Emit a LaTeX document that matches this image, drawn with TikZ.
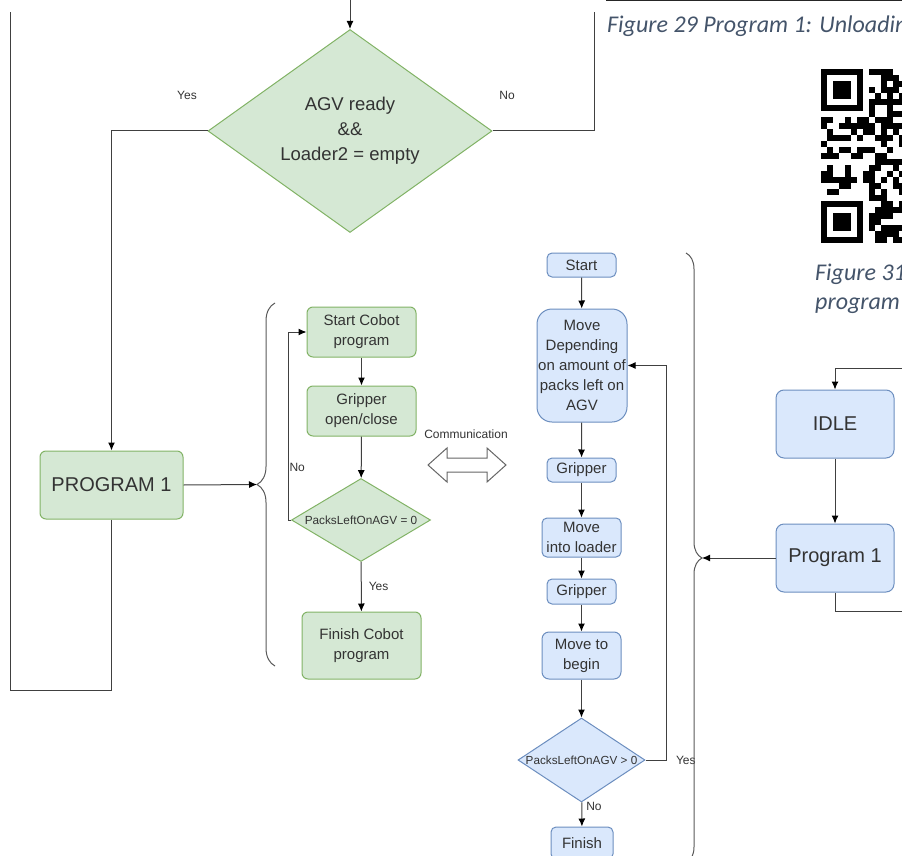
\documentclass[tikz,border=0pt]{standalone}
\usepackage{fontspec}
\setmainfont{Liberation Sans}
\newfontfamily\capfont{Carlito}
\usetikzlibrary{arrows.meta, positioning, shapes.geometric, decorations.pathreplacing}
\definecolor{gfill}{HTML}{D5E8D4}
\definecolor{gline}{HTML}{82B366}
\definecolor{bfill}{HTML}{DAE8FC}
\definecolor{bline}{HTML}{6C8EBF}
\definecolor{txt}{HTML}{333333}
\definecolor{capcol}{HTML}{44546A}
\tikzset{
  gbox/.style={draw=gline, fill=gfill, rounded corners=6pt, line width=1pt, text=txt, align=center, inner sep=0pt},
  bbox/.style={draw=bline, fill=bfill, rounded corners=5pt, line width=1pt, text=txt, align=center, inner sep=0pt},
  gdia/.style={diamond, draw=gline, fill=gfill, line width=1pt, text=txt, align=center, inner sep=0pt},
  bdia/.style={diamond, draw=bline, fill=bfill, line width=1pt, text=txt, align=center, inner sep=0pt},
  wire/.style={draw=black!75, line width=1pt},
  conn/.style={wire, -{Latex[length=8pt,width=7pt,color=black]}},
  lbl/.style={text=txt, inner sep=1pt, font=\fontsize{12}{14}\selectfont},
  brc/.style={wire, draw=black!65, decorate},
  captext/.style={text=capcol, inner sep=0pt, anchor=base west, font=\capfont\itshape\fontsize{24}{29}\selectfont},
  f15/.style={font=\fontsize{15}{20}\selectfont},
  f20/.style={font=\fontsize{20}{24}\selectfont},
}

\begin{document}
\begin{tikzpicture}[x=1pt, y=-1pt]
    \useasboundingbox (0,0) rectangle (902,856);
    \clip (0,0) rectangle (902,856);

    % left part
    \node[gdia, aspect=1.4, minimum width=284pt, minimum height=203pt, font=\fontsize{18.5}{25}\selectfont] (agv) at (350,131) {AGV ready\\\&\&\\Loader2 = empty};
    \node[gbox, f20, minimum width=143pt, minimum height=68pt] (p1) at (111.5,485) {PROGRAM 1};
    \node[gbox, f15, minimum width=109pt, minimum height=50pt] (cstart) at (361.5,332) {Start Cobot\\program};
    \node[gbox, f15, minimum width=109pt, minimum height=50pt] (cgrip) at (361.5,411) {Gripper\\open/close};
    \node[gdia, minimum width=139pt, minimum height=83pt, font=\fontsize{11.8}{14}\selectfont] (cchk) at (361,520) {\makebox[0pt]{PacksLeftOnAGV = 0}};
    \node[gbox, f15, minimum width=119pt, minimum height=67pt] (cfin) at (361.5,645.5) {Finish Cobot\\program};

    \coordinate (topin) at (350,0);
    \coordinate (noend) at (594,12);
    \coordinate (ll) at (10,690);
    \coordinate (lt) at (10,12);
    \coordinate (ltip) at (257,484.5);

    \draw[conn] (topin) -- (agv.north);
    \draw[wire] (agv.east) -| (noend);
    \draw[conn] (agv.west) -| (p1.north);
    \draw[wire] (p1.south) |- (ll) -- (lt);
    \draw[conn] (p1.east) -- (ltip);
    \draw[brc, decoration={brace, amplitude=18pt}] (275,666) -- (275,303);
    \node[lbl] (ylbl) at (187,95) {Yes};
    \node[lbl] (nlbl) at (507,95) {No};

    \draw[conn] (cstart) -- (cgrip);
    \draw[conn] (cgrip) -- (cchk);
    \draw[conn] (cchk) -- node[lbl, pos=0.5, right=6pt] {Yes} (cfin);
    \draw[conn] (cchk.west) -- ++(-3,0) |- node[lbl, pos=0.14, right=0pt] {No} (cstart.west);

    % communication
    \node[lbl] (comm) at (466,434) {Communication};
    \draw[wire, draw=black!60, fill=white] (428,465) -- (447,448) -- (447,458) -- (487,458) -- (487,448)
        -- (506,465) -- (487,482) -- (487,472) -- (447,472) -- (447,482) -- cycle;

    % robot program
    \node[bbox, f15, minimum width=69pt, minimum height=24pt] (bstart) at (581.5,265) {Start};
    \node[bbox, f15, rounded corners=15pt, minimum width=90pt, minimum height=113pt] (bmove) at (582,365.5) {Move\\Depending\\on amount of\\packs left on\\AGV};
    \node[bbox, f15, minimum width=69pt, minimum height=24pt] (bgrip) at (581.5,470) {Gripper};
    \node[bbox, f15, minimum width=79pt, minimum height=39pt] (bload) at (581.5,537.5) {Move\\into loader};
    \node[bbox, f15, minimum width=69pt, minimum height=25pt] (bgrip2) at (581.5,591.5) {Gripper};
    \node[bbox, f15, rounded corners=7pt, minimum width=79pt, minimum height=47pt] (bback) at (581.5,655.5) {Move to\\begin};
    \node[bdia, minimum width=127pt, minimum height=84pt, font=\fontsize{11.7}{14}\selectfont] (bchk) at (581.5,760) {\makebox[0pt]{PacksLeftOnAGV > 0}};
    \node[bbox, f15, minimum width=62pt, minimum height=32pt] (bfin) at (582,843) {Finish};

    \draw[conn] (bstart) -- (bmove);
    \draw[conn] (bmove) -- (bgrip);
    \draw[conn] (bgrip) -- (bload);
    \draw[conn] (bload) -- (bgrip2);
    \draw[conn] (bgrip2) -- (bback);
    \draw[conn] (bback) -- (bchk);
    \draw[conn] (bchk) -- node[lbl, pos=0.15, right=3pt] {No} (bfin);
    \draw[conn] (bchk.east) -- node[lbl, pos=1, right=8pt] {Yes} ++(21,0) |- (bmove.east);

    % state machine
    \node[bbox, f20, rounded corners=8pt, minimum width=118pt, minimum height=68pt] (idle) at (835,424) {IDLE};
    \node[bbox, f20, rounded corners=8pt, minimum width=118pt, minimum height=68pt] (prog) at (835,558) {Program 1};
    \coordinate (rin) at (910,368);
    \coordinate (rout) at (910,611);
    \coordinate (rtip) at (702,558);

    \draw[conn] (rin) -| (idle.north);
    \draw[conn] (idle) -- (prog);
    \draw[wire] (prog.south) |- (rout);
    \draw[conn] (prog.west) -- (rtip);
    \draw[brc, decoration={brace, amplitude=16pt}] (686,253) -- (686,863);

    % captions and qr code
    \fill[black!85] (606,0) rectangle (902,1.5);
    \node[captext] (cap29) at (607,33) {Figure 29 Program 1: Unloadin};
    \node[captext] (cap31) at (815,280) {Figure 31};
    \node[captext] (cap31b) at (815,309) {program};

    \fill (821,69) rectangle ++(42,42);
    \fill[white] (827,75) rectangle ++(30,30);
    \fill (833,81) rectangle ++(18,18);
    \fill (821,201) rectangle ++(42,42);
    \fill[white] (827,207) rectangle ++(30,30);
    \fill (833,213) rectangle ++(18,18);
    \pgfmathsetseed{31}
    \foreach \r in {0,...,28}{
      \foreach \c in {0,...,13}{
        \pgfmathtruncatemacro\qrfree{((\r>7)&&(\r<21))||(\c>7)}
        \pgfmathtruncatemacro\qrbit{rnd<0.5}
        \ifnum\qrfree\qrbit=11 \fill (821+6*\c,69+6*\r) rectangle ++(6,6);\fi
      }
    }
\end{tikzpicture}
\end{document}
